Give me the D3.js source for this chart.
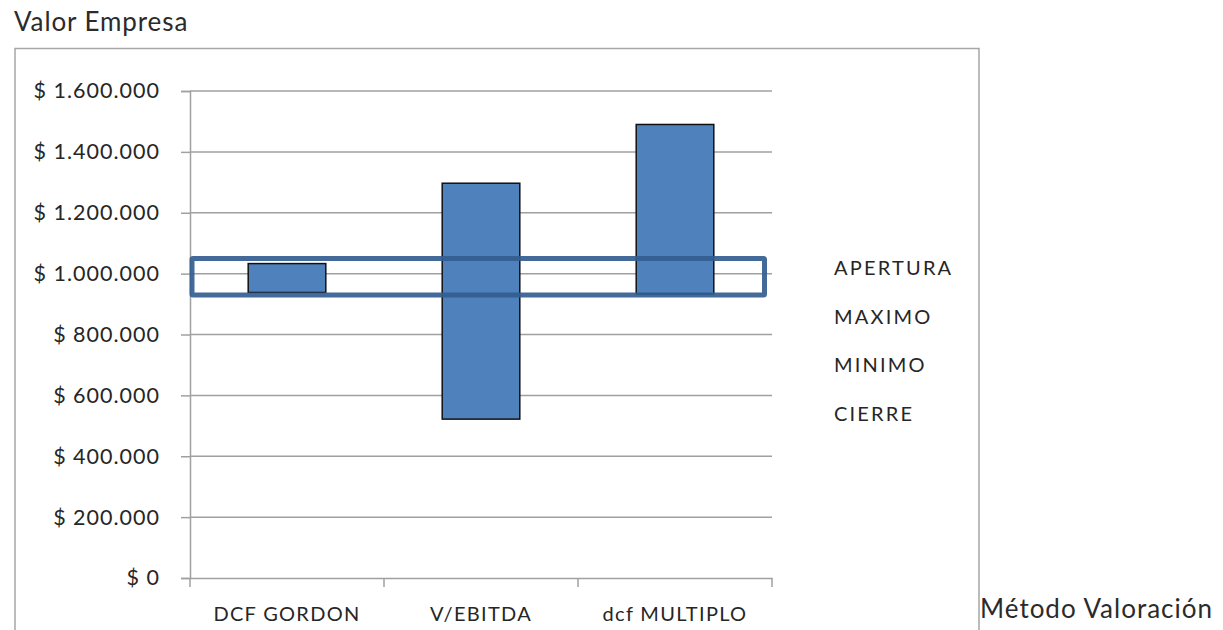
<!DOCTYPE html>
<html>
<head>
<meta charset="UTF-8">
<title>Valor Empresa</title>
<script src="https://d3js.org/d3.v7.min.js"></script>
<style>
html, body { margin: 0; padding: 0; background: #fff; }
svg { font-family: Lato, 'Open Sans', sans-serif; display: block; }
</style>
</head>
<body>
<script>
// datos del grafico (apertura / cierre por metodo)
var metodos = ["DCF GORDON", "V/EBITDA", "dcf MULTIPLO"];
var apertura = [938000, 522000, 933000];
var cierre = [1033000, 1297000, 1490000];
var leyenda = ["APERTURA", "MAXIMO", "MINIMO", "CIERRE"];
var yTicks = [0, 200000, 400000, 600000, 800000, 1000000, 1200000, 1400000, 1600000];
var banda = [930000, 1050000];   // recuadro resaltado

var width = 1223, height = 630;
var svg = d3.select("body").append("svg")
    .attr("width", width)
    .attr("height", height);

// marco del grafico
svg.append("rect")
    .attr("x", 15).attr("y", 48.5)
    .attr("width", 964).attr("height", 620)
    .attr("fill", "none")
    .attr("stroke", "#a6a6a6")
    .attr("stroke-width", 1.5);

var x = d3.scaleBand()
    .domain(metodos)
    .range([190, 772])
    .paddingInner(0.6)
    .paddingOuter(0.3);

var y = d3.scaleLinear()
    .domain([0, 1600000])
    .range([578, 91]);

function pesos(v) {
    return "$ " + d3.format(",")(v).replace(/,/g, ".");
}

// lineas de division
svg.append("g")
    .selectAll("line")
    .data(yTicks.slice(1))
    .join("line")
    .attr("x1", 190).attr("x2", 772)
    .attr("y1", d => y(d)).attr("y2", d => y(d))
    .attr("stroke", "#a0a0a0")
    .attr("stroke-width", 1.5);

// eje y
var yAxis = svg.append("g")
    .attr("transform", "translate(190,0)")
    .call(d3.axisLeft(y).tickValues(yTicks).tickFormat(pesos).tickSize(9).tickPadding(21));
yAxis.select(".domain").attr("stroke", "#a0a0a0").attr("stroke-width", 1.5);
yAxis.selectAll(".tick line").attr("stroke", "#a0a0a0").attr("stroke-width", 1.5);
yAxis.selectAll("text")
    .attr("font-family", "Lato, sans-serif")
    .attr("font-size", 21.5)
    .attr("letter-spacing", 1)
    .attr("fill", "#262626");

// eje x
var xAxis = svg.append("g")
    .attr("transform", "translate(0,578)")
    .call(d3.axisBottom(x).tickSize(0).tickPadding(29));
xAxis.select(".domain").attr("stroke", "#a0a0a0").attr("stroke-width", 1.5);
xAxis.selectAll("text")
    .attr("font-family", "Lato, sans-serif")
    .attr("font-size", 20)
    .attr("letter-spacing", 1.3)
    .attr("fill", "#262626");

// marcas de separacion de categorias
var bordes = metodos.map((d, i) => 190 + i * x.step());
bordes.push(772);
svg.append("g")
    .selectAll("line")
    .data(bordes)
    .join("line")
    .attr("x1", d => d).attr("x2", d => d)
    .attr("y1", 578).attr("y2", 587)
    .attr("stroke", "#a0a0a0")
    .attr("stroke-width", 1.5);

// barras
svg.append("g")
    .selectAll("rect")
    .data(metodos)
    .join("rect")
    .attr("x", d => x(d))
    .attr("width", x.bandwidth())
    .attr("y", (d, i) => y(Math.max(apertura[i], cierre[i])))
    .attr("height", (d, i) => Math.abs(y(apertura[i]) - y(cierre[i])))
    .attr("fill", "#4f81bd")
    .attr("stroke", "#111")
    .attr("stroke-width", 1.5);

// recuadro resaltado
svg.append("rect")
    .attr("x", 192)
    .attr("y", y(banda[1]))
    .attr("width", 764.5 - 192)
    .attr("height", y(banda[0]) - y(banda[1]))
    .attr("fill", "none")
    .attr("stroke", "#335d8f")
    .attr("stroke-opacity", 0.92)
    .attr("stroke-width", 5)
    .attr("rx", 1);

// leyenda
svg.append("g")
    .selectAll("text")
    .data(leyenda)
    .join("text")
    .attr("x", 834)
    .attr("y", (d, i) => 275 + i * 48.5)
    .attr("font-size", 20)
    .attr("letter-spacing", 2.2)
    .attr("fill", "#262626")
    .text(d => d);

// titulos
svg.append("text")
    .attr("x", 14).attr("y", 31)
    .attr("font-size", 26)
    .attr("letter-spacing", 0.9)
    .attr("fill", "#2b2b2b")
    .text("Valor Empresa");

svg.append("text")
    .attr("x", 980).attr("y", 618)
    .attr("font-size", 26)
    .attr("letter-spacing", 1)
    .attr("fill", "#2b2b2b")
    .text("Método Valoración");
</script>
</body>
</html>
